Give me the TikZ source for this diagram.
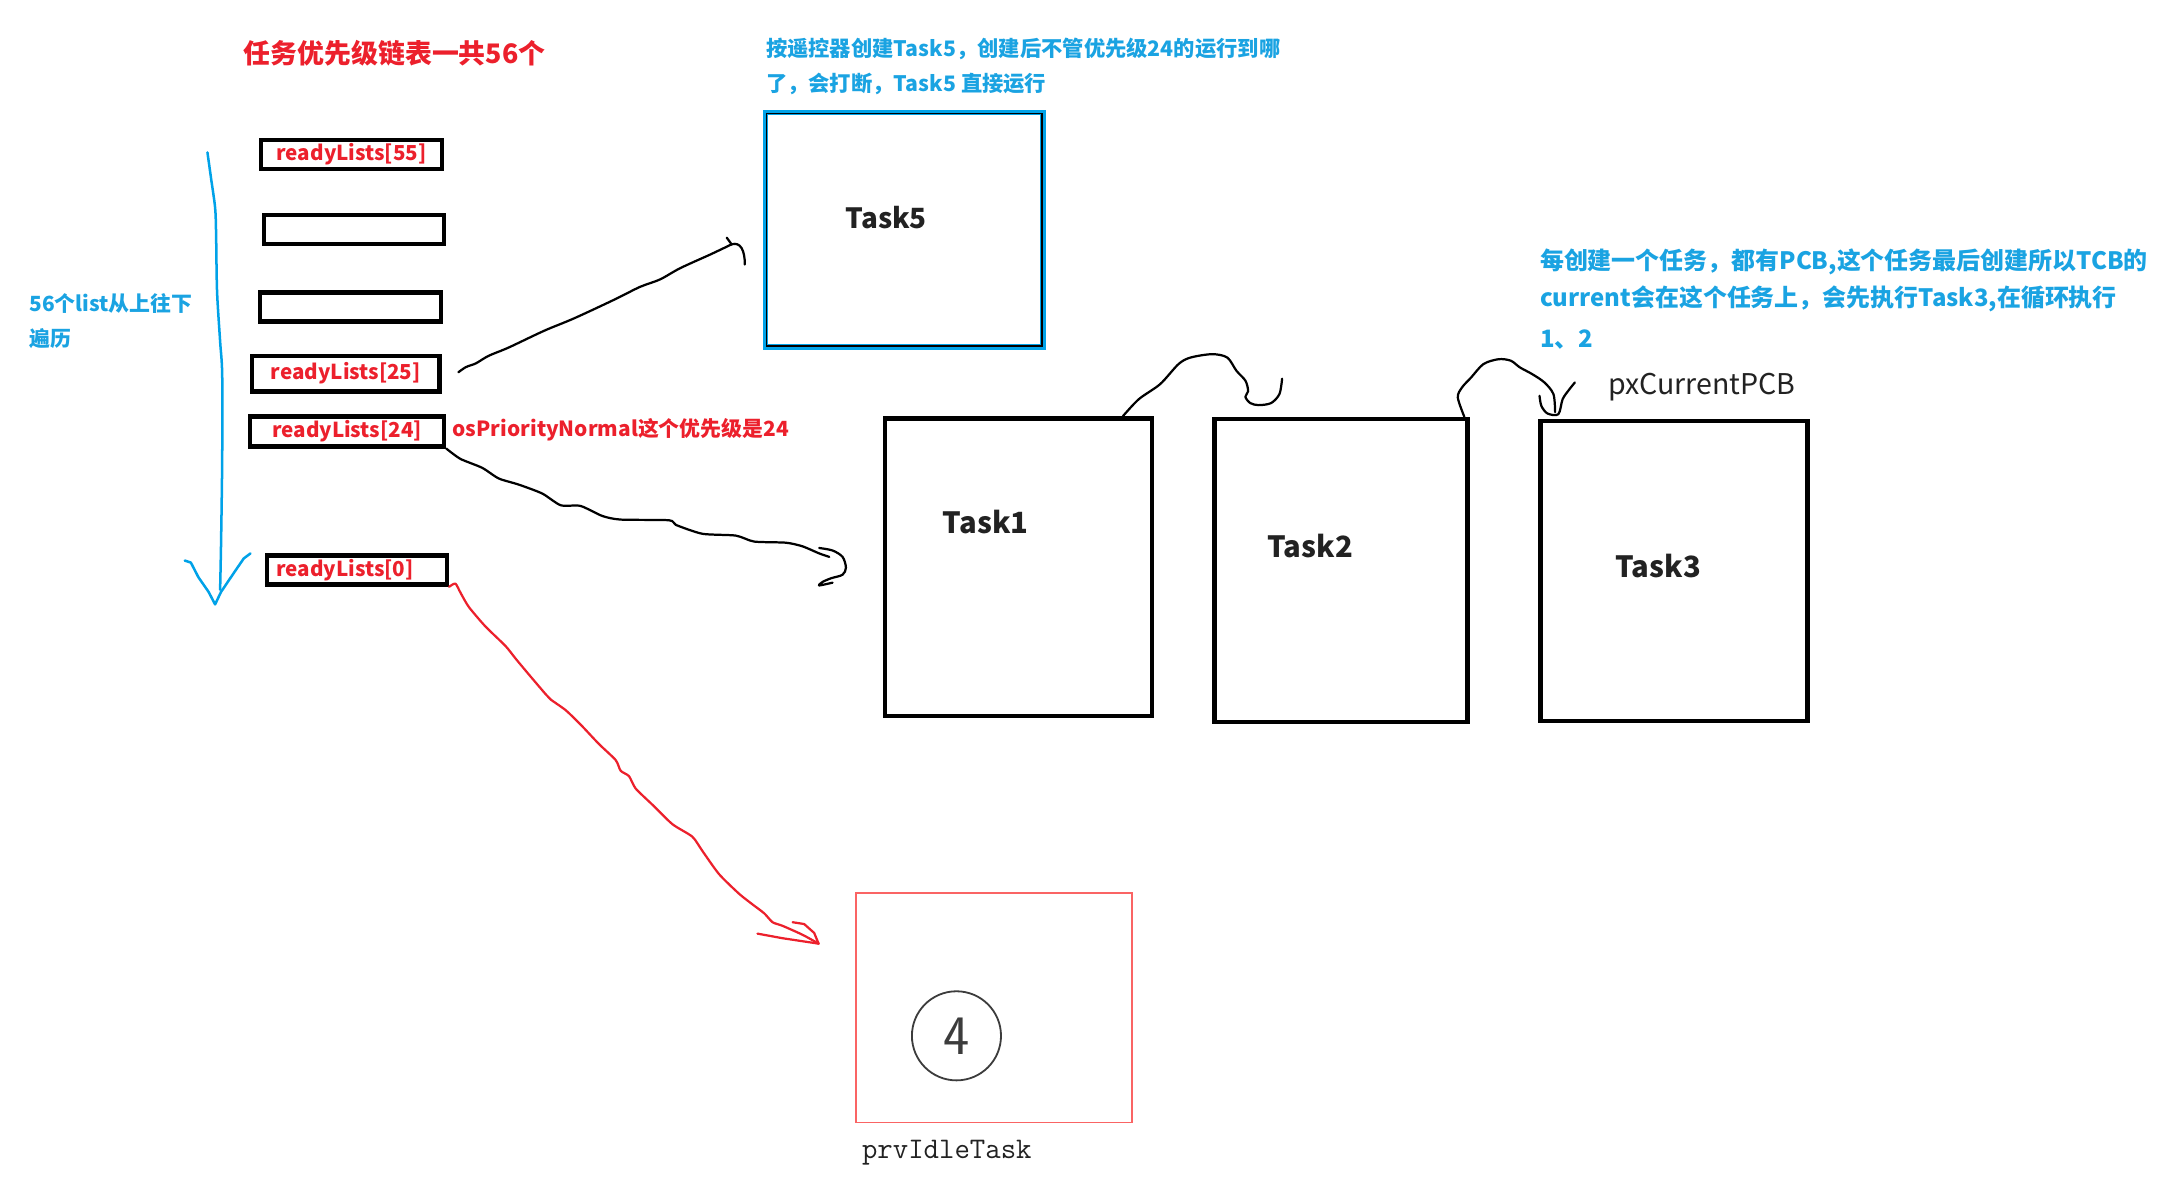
\documentclass[tikz,border=0pt]{standalone}
\usepackage{fontspec}
\setmainfont{Noto Sans CJK SC}
\definecolor{redtxt}{RGB}{236,32,44}
\definecolor{bluetxt}{RGB}{26,163,226}
\definecolor{bluel}{RGB}{0,162,232}
\definecolor{idlered}{RGB}{250,100,100}
\definecolor{txtblack}{RGB}{34,34,34}
\definecolor{pencil}{RGB}{60,60,60}
\tikzset{
  listbox/.style={draw=black, line width=3.2pt, inner sep=0pt, text=redtxt,
    font=\bfseries\fontsize{14.8}{14.8}\selectfont},
  taskbox/.style={draw=black, line width=3.2pt, inner sep=0pt},
  tasklbl/.style={anchor=west, inner sep=0pt, text=txtblack,
    font=\bfseries\fontsize{21}{21}\selectfont},
  bluenote/.style={anchor=west, inner sep=0pt, text=bluetxt,
    font=\bfseries\fontsize{15.3}{15.3}\selectfont},
  bignote/.style={anchor=west, inner sep=0pt, text=bluetxt,
    font=\bfseries\fontsize{17.2}{17.2}\selectfont},
  rednote/.style={anchor=west, inner sep=0pt, text=redtxt,
    font=\bfseries\fontsize{15}{15}\selectfont},
  hand/.style={line width=1.6pt, line cap=round, line join=round},
}
\begin{document}
\begin{tikzpicture}[x=1pt,y=-1pt]
\useasboundingbox (0,0) rectangle (1568,851);
\fill[white] (0,0) rectangle (1568,851);

% titles and notes
\node[anchor=west, inner sep=0pt, text=redtxt, font=\bfseries\fontsize{19.3}{19.3}\selectfont] (title) at (175,38) {任务优先级链表一共56个};
\node[bluenote] (n5a) at (550,35) {按遥控器创建Task5，创建后不管优先级24的运行到哪};
\node[bluenote] (n5b) at (550,60) {了，会打断，Task5 直接运行};
\node[bignote] (nr1) at (1106,188) {每创建一个任务，都有PCB,这个任务最后创建所以TCB的};
\node[bignote] (nr2) at (1106,215) {current会在这个任务上，会先执行Task3,在循环执行};
\node[bignote] (nr3) at (1106,244) {1、2};
\node[bluenote, font=\bfseries\fontsize{15}{15}\selectfont] (nl1) at (21,218) {56个list从上往下};
\node[bluenote, font=\bfseries\fontsize{15}{15}\selectfont] (nl2) at (21,243) {遍历};
\node[rednote] (prio) at (325,309) {osPriorityNormal这个优先级是24};

% ready lists
\node[listbox, minimum width=129.8pt, minimum height=20.8pt] (rl55) at (252.5,111) {readyLists[55]};
\node[listbox, minimum width=129.5pt, minimum height=20.8pt] (e1) at (254.2,164.7) {};
\node[listbox, minimum width=129.8pt, minimum height=20.8pt] (e2) at (251.8,220.5) {};
\node[listbox, minimum width=134.5pt, minimum height=25.3pt] (rl25) at (248.4,268.4) {readyLists[25]};
\node[listbox, minimum width=139.3pt, minimum height=21.4pt] (rl24) at (249.3,309.9) {readyLists[24]};
\node[listbox, minimum width=129.4pt, minimum height=20.8pt, inner xsep=7pt, text width=115.4pt, align=left] (rl0) at (256.3,409.5) {readyLists[0]};

% traversal arrow
\coordinate (trTop) at (149,109.5);
\coordinate (trBot) at (158.1,423.6);
\draw[hand, bluel, line width=1.8pt] plot[smooth, tension=0.5] coordinates {(trTop) (151.6,128.1) (154.5,149.1) (155.2,167.1) (155.9,209.1) (158.1,245.1) (159.6,269.1) (159.6,329.1) (158.8,389.1) (trBot)};
\draw[hand, bluel, line width=1.8pt] (132.7,402.6) -- (137.1,404.1) -- (142.5,414.6) -- (149.8,425.1) -- (154.5,434.1) -- (158.8,425.1) -- (167.9,411.6) -- (175.1,401.1) -- (179.9,397.5);

% Task5
\node[draw=bluel, line width=3.7pt, minimum width=199.3pt, minimum height=168.4pt, inner sep=0pt] (task5) at (649.5,165) {};
\draw[black, line width=1.2pt] ([shift={(2.6,2.6)}]task5.north west) rectangle ([shift={(-2.6,-2.6)}]task5.south east);
\node[tasklbl, font=\bfseries\fontsize{20}{20}\selectfont] (t5l) at (607,156) {Task5};

% Tasks 1-3
\node[taskbox, minimum width=191.8pt, minimum height=213.8pt] (task1) at (731.5,407.5) {};
\node[taskbox, minimum width=182pt, minimum height=217.4pt] (task2) at (963.2,409.7) {};
\node[taskbox, minimum width=191.7pt, minimum height=215.8pt] (task3) at (1202.3,410.1) {};
\node[tasklbl] (t1l) at (677,374.6) {Task1};
\node[tasklbl] (t2l) at (910,392) {Task2};
\node[tasklbl] (t3l) at (1160,406.4) {Task3};
\node[anchor=west, inner sep=0pt, text=txtblack, font=\fontsize{20.5}{20.5}\selectfont] (pcb) at (1155,278) {pxCurrentPCB};

% idle task
\node[draw=idlered, line width=1.4pt, minimum width=198.5pt, minimum height=164.5pt, inner sep=0pt] (idle) at (714,724) {};
\node[circle, draw=pencil, line width=1.3pt, minimum size=64pt, inner sep=0pt, text=pencil, font=\sffamily\fontsize{40}{40}\selectfont] (four) at (687,744) {4};
\node[anchor=west, inner sep=0pt, text=txtblack, font=\ttfamily\fontsize{21.5}{21.5}\selectfont] (idlel) at (619,828) {prvIdleTask};

% connector readyLists[25] -> Task5
\coordinate (c1end) at (525.5,175.5);
\draw[hand] plot[smooth, tension=0.5] coordinates {([shift={(12,-1)}]rl25.east) (334.6,263.7) (341.8,261) (350.9,255.6) (365.4,249.6) (390.8,237.6) (412.5,228.6) (441.5,215.1) (459.6,206.1) (474.1,200.7) (488.6,192.6) (510.4,182.7) (c1end)};
\draw[hand] (c1end) -- (522,170.7);
\draw[hand] (c1end) .. controls (532,173.5) and (535,180) .. (535,190);

% connector readyLists[24] -> Task1
\coordinate (c2end) at (595.6,400);
\draw[hand] plot[smooth, tension=0.4] coordinates {(rl24.south east) (330.7,329.6) (346.3,336) (358.3,343.7) (372.7,348.1) (389.5,354.5) (402.7,362.9) (417,363.4) (432.6,370.6) (445.8,373.2) (480.6,373.7) (485.4,377) (504.5,383.4) (528.5,384.7) (541.7,389) (564.5,389.8) (576.4,392.4) (588.4,397.5) (c2end)};
\draw[hand] plot[smooth, tension=0.5] coordinates {(588.4,393.6) (598,395.4) (605.2,400) (607.6,407.7) (605.2,412.8) (596.8,415.4) (590.8,418) (588.4,420.5) (598,418.5)};

% connector readyLists[0] -> idle task (red)
\coordinate (c3end) at (588,677.8);
\draw[hand, redtxt] plot[smooth, tension=0.4] coordinates {(rl0.south east) (327.1,419.2) (330.7,425.6) (336.7,435.9) (348.7,450) (363.1,464) (370.3,473) (379.9,484.5) (391.9,498.6) (395.5,502.4) (406.3,510.1) (417,520.4) (430.2,534.4) (442.2,545.9) (445.8,553.6) (451.8,557.5) (456.6,566.4) (468.6,578) (483,592) (497.3,601) (504.5,611.2) (516.5,627.9) (530.9,642) (540.5,649.6) (548.9,656) (554.9,662.4) (562.1,665) (576.4,671.4) (c3end)};
\draw[hand, redtxt] (544.1,670.6) -- (562.1,673.9) -- (c3end);
\draw[hand, redtxt] (569.3,662.4) -- (577.6,663.7) -- (584.8,670.1) -- (c3end);

% Task1 -> Task2 squiggle
\coordinate (s1end) at (920.9,272);
\draw[hand] plot[smooth, tension=0.5] coordinates {([xshift=-22.5pt]task1.north east) (818.0,286.7) (833.3,275.9) (846.5,261.5) (855.2,256.8) (870.6,254.4) (881.5,256.8) (888.1,266.3) (894.6,273.5) (896.5,281) (894.5,285) (898,289.5) (904,291) (913,289.5) (919,283) (s1end)};

% Task2 -> Task3 squiggle
\coordinate (s2end) at (1131.2,274.7);
\draw[hand] plot[smooth, tension=0.5] coordinates {([xshift=-4pt]task2.north east) (1047.1,285.5) (1050.1,278.3) (1056.7,271.1) (1065.5,261.5) (1076.4,258.0) (1085.2,259.1) (1091.7,263.9) (1100.5,268.7) (1109.3,274.7) (1115.8,283.1) (1117,296)};
\draw[hand] plot[smooth, tension=0.5] coordinates {(1105.8,284.3) (1107.1,291.5) (1111.5,297) (1119.3,297.5) (1122.4,286.7) (1126.8,280.2) (s2end)};
\end{tikzpicture}
\end{document}
